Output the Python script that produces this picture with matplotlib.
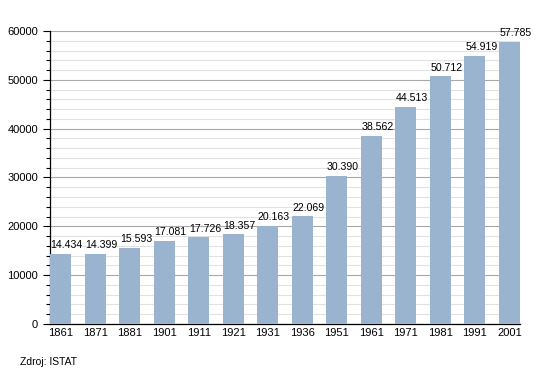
import matplotlib
matplotlib.use("Agg")
from matplotlib import pyplot as plt
from matplotlib.ticker import MultipleLocator

years = ["1861", "1871", "1881", "1901", "1911", "1921", "1931",
         "1936", "1951", "1961", "1971", "1981", "1991", "2001"]
population = [14434, 14399, 15593, 17081, 17726, 18357, 20163,
              22069, 30390, 38562, 44513, 50712, 54919, 57785]
labels = ["14.434", "14.399", "15.593", "17.081", "17.726", "18.357", "20.163",
          "22.069", "30.390", "38.562", "44.513", "50.712", "54.919", "57.785"]

plt.rcParams["font.family"] = ["Liberation Sans", "DejaVu Sans"]

fig = plt.figure(figsize=(5.5, 3.73), dpi=100)
ax = fig.add_axes([0.0909, 0.1314, 0.8546, 0.7855])

bw = 0.61
x = range(len(years))
ax.bar(x, population, width=bw, color="#9ab3cf", zorder=3)
# value labels start at the bar's left edge, like the original
for xi, v, lab in zip(x, population, labels):
    ax.text(xi - bw / 2 + 0.02, v + 1100, lab, ha="left", va="baseline",
            fontsize=7.6, zorder=4)

ax.set_xlim(-bw / 2, len(years) - 1 + bw / 2)
ax.set_ylim(0, 60000)
ax.set_xticks(list(x))
ax.set_xticklabels(years, fontsize=8)
ax.yaxis.set_major_locator(MultipleLocator(10000))
ax.yaxis.set_minor_locator(MultipleLocator(2000))
ax.tick_params(axis="y", which="major", labelsize=8, length=5, width=0.8)
ax.tick_params(axis="y", which="minor", length=3, width=0.8)
ax.tick_params(axis="x", length=0, pad=3)

ax.grid(axis="y", which="major", color="#a8a8a8", linewidth=0.8, zorder=0)
ax.grid(axis="y", which="minor", color="#e2e2e2", linewidth=0.8, zorder=0)

for side in ["top", "right"]:
    ax.spines[side].set_visible(False)
ax.spines["left"].set_linewidth(0.9)
ax.spines["bottom"].set_linewidth(0.9)

fig.text(20 / 550, 1 - 362 / 373, "Zdroj: ISTAT", fontsize=7.5, va="center")

fig.savefig("out.png", dpi=100)
